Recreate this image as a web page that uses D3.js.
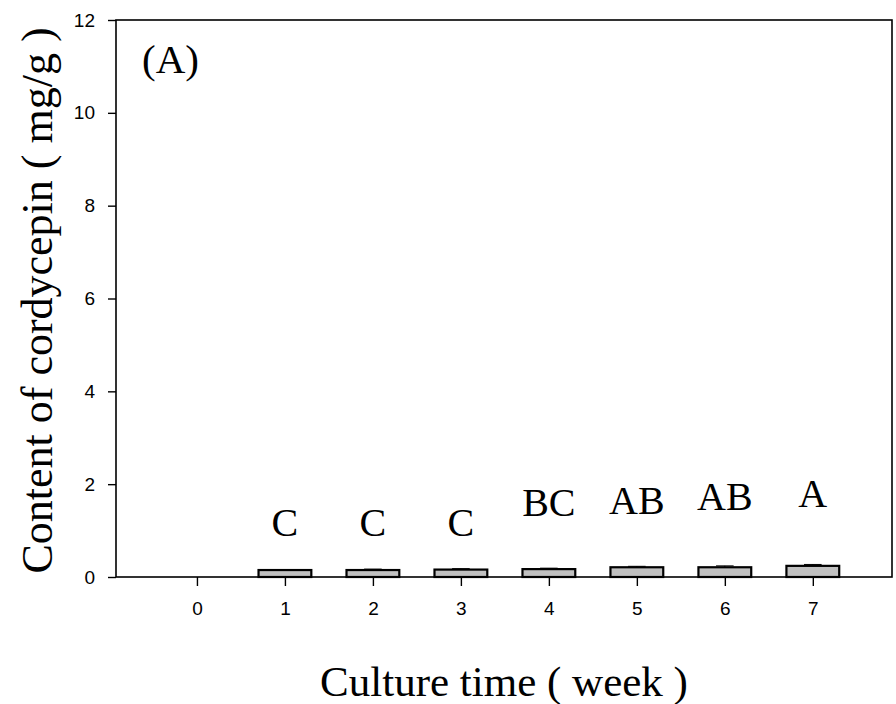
<!DOCTYPE html>
<html>
<head>
<meta charset="utf-8">
<script src="https://cdn.jsdelivr.net/npm/d3@7/dist/d3.min.js"></script>
<style>
  html, body { margin: 0; padding: 0; background: #fff; }
  svg { display: block; }
</style>
</head>
<body>
<svg id="chart" width="896" height="704"></svg>
<script>
// ---- data ----
const weeks = [0, 1, 2, 3, 4, 5, 6, 7];
const cordycepin = [0, 0.15, 0.15, 0.16, 0.17, 0.21, 0.21, 0.24];
const errors = [0, 0.01, 0.02, 0.02, 0.02, 0.02, 0.03, 0.03];
const letters = ["", "C", "C", "C", "BC", "AB", "AB", "A"];
const letterLevels = [0, 0.88, 0.88, 0.88, 1.31, 1.36, 1.44, 1.51];
const yTicks = [0, 2, 4, 6, 8, 10, 12];
const xTicks = [0, 1, 2, 3, 4, 5, 6, 7];
const panelLabel = "(A)";
const xTitle = "Culture time ( week )";
const yTitle = "Content of cordycepin ( mg/g )";

// ---- layout ----
const svg = d3.select("#chart");
const mLeft = 116, mRight = 892, mTop = 20, mBottom = 577;
const x = d3.scaleLinear().domain([-0.92, 7.9]).range([mLeft, mRight]);
const y = d3.scaleLinear().domain([0, 12]).range([mBottom, mTop]);
const barW = x(0.6) - x(0);
const serif = "'Liberation Serif', 'Times New Roman', serif";
const sans = "'Liberation Sans', Arial, sans-serif";

// frame
svg.append("rect")
  .attr("x", mLeft).attr("y", mTop)
  .attr("width", mRight - mLeft).attr("height", mBottom - mTop)
  .attr("fill", "none").attr("stroke", "#000").attr("stroke-width", 1.6);

// y axis
const yAxis = svg.append("g")
  .attr("transform", `translate(${mLeft},0)`)
  .call(d3.axisLeft(y).tickValues(yTicks).tickSize(8).tickPadding(13).tickFormat(d3.format("d")));
yAxis.select(".domain").remove();
yAxis.selectAll("line").attr("stroke", "#000").attr("stroke-width", 1.4);
yAxis.selectAll("text").attr("font-family", sans).attr("font-size", 19).attr("fill", "#000");

// x axis
const xAxis = svg.append("g")
  .attr("transform", `translate(0,${mBottom})`)
  .call(d3.axisBottom(x).tickValues(xTicks).tickSize(9).tickPadding(16).tickFormat(d3.format("d")));
xAxis.select(".domain").remove();
xAxis.selectAll("line").attr("stroke", "#000").attr("stroke-width", 1.4);
xAxis.selectAll("text").attr("font-family", sans).attr("font-size", 19).attr("fill", "#000");

// bars
const data = weeks.map((w, i) => ({ w, v: cordycepin[i], e: errors[i], l: letters[i], ly: letterLevels[i] }));
const barData = data.filter(d => d.v > 0);

svg.append("g").selectAll("rect")
  .data(barData).join("rect")
  .attr("x", d => x(d.w) - barW / 2)
  .attr("y", d => y(d.v))
  .attr("width", barW)
  .attr("height", d => y(0) - y(d.v))
  .attr("fill", "#c0c0c0")
  .attr("stroke", "#000")
  .attr("stroke-width", 2.2);

// error bars
const capW = barW / 3;
const eb = svg.append("g").attr("stroke", "#000").attr("stroke-width", 1);
eb.selectAll("line.v").data(barData).join("line").attr("class", "v")
  .attr("x1", d => x(d.w)).attr("x2", d => x(d.w))
  .attr("y1", d => y(d.v)).attr("y2", d => y(d.v + d.e));
eb.selectAll("line.c").data(barData).join("line").attr("class", "c")
  .attr("x1", d => x(d.w) - capW / 2).attr("x2", d => x(d.w) + capW / 2)
  .attr("y1", d => y(d.v + d.e)).attr("y2", d => y(d.v + d.e));

// significance letters
svg.append("g").selectAll("text")
  .data(barData).join("text")
  .attr("x", d => x(d.w))
  .attr("y", d => y(d.ly))
  .attr("text-anchor", "middle")
  .attr("font-family", serif)
  .attr("font-size", 40)
  .attr("fill", "#000")
  .text(d => d.l);

// panel label
svg.append("text")
  .attr("x", 142).attr("y", 73)
  .attr("font-family", serif).attr("font-size", 41)
  .attr("fill", "#000")
  .text(panelLabel);

// axis titles
svg.append("text")
  .attr("x", (mLeft + mRight) / 2).attr("y", 696)
  .attr("text-anchor", "middle")
  .attr("font-family", serif).attr("font-size", 43)
  .attr("fill", "#000")
  .text(xTitle);

svg.append("text")
  .attr("transform", `translate(52,${(mTop + mBottom) / 2 + 2}) rotate(-90)`)
  .attr("text-anchor", "middle")
  .attr("font-family", serif).attr("font-size", 44)
  .attr("fill", "#000")
  .text(yTitle);
</script>
</body>
</html>
